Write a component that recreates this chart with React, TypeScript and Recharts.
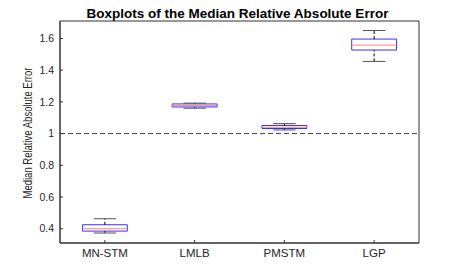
import {
  ComposedChart,
  XAxis,
  YAxis,
  ReferenceLine,
  ReferenceArea,
  Scatter,
} from 'recharts';

const categories = ['MN-STM', 'LMLB', 'PMSTM', 'LGP'];
const whiskerLow = [0.373, 1.16, 1.023, 1.455];
const q1 = [0.385, 1.168, 1.032, 1.527];
const median = [0.4, 1.178, 1.04, 1.558];
const q3 = [0.425, 1.187, 1.051, 1.596];
const whiskerHigh = [0.463, 1.192, 1.063, 1.65];

const yTicks = [0.4, 0.6, 0.8, 1, 1.2, 1.4, 1.6];
const xTicks = [1, 2, 3, 4];

const medianPoints = categories.map((name, i) => ({ x: i + 1, y: median[i], name }));

const BOX_HALF = 0.25;
const CAP_HALF = 0.125;
const FONT = '"Liberation Sans", Arial, Helvetica, sans-serif';
const AXIS = '#333333';

export default function App() {
  return (
    <div style={{ position: 'absolute', left: 0, top: 0, width: 463, height: 273, background: '#fff' }}>
      <div
        style={{
          position: 'absolute',
          left: 0,
          width: 475,
          top: 6,
          textAlign: 'center',
          fontFamily: FONT,
          fontWeight: 'bold',
          fontSize: 13.5,
          color: '#000',
        }}
      >
        Boxplots of the Median Relative Absolute Error
      </div>
      <div
        style={{
          position: 'absolute',
          left: 28,
          top: 133,
          transform: 'translate(-50%, -50%) rotate(-90deg) scaleX(0.76)',
          whiteSpace: 'nowrap',
          fontFamily: FONT,
          fontSize: 12.5,
          color: '#262626',
        }}
      >
        Median Relative Absolute Error
      </div>
      <ComposedChart
        width={463}
        height={273}
        data={medianPoints}
        margin={{ top: 21, right: 44, bottom: 0, left: 0 }}
        style={{ position: 'absolute', left: 0, top: 0 }}
      >
        <XAxis
          dataKey="x"
          type="number"
          domain={[0.5, 4.5]}
          ticks={xTicks}
          tickFormatter={(v: number) => categories[v - 1]}
          height={30}
          tickSize={-3}
          tickMargin={9}
          stroke={AXIS}
          tick={{ fill: '#262626', fontSize: 11.5, fontFamily: FONT }}
          allowDataOverflow
        />
        <XAxis
          xAxisId="top"
          dataKey="x"
          orientation="top"
          type="number"
          domain={[0.5, 4.5]}
          ticks={xTicks}
          height={0}
          tickSize={-3}
          tick={false}
          stroke={AXIS}
          allowDataOverflow
        />
        <YAxis
          type="number"
          domain={[0.31, 1.71]}
          ticks={yTicks}
          width={60}
          tickSize={-3}
          tickMargin={9}
          stroke={AXIS}
          tickFormatter={(v: number) => String(v)}
          tick={{ fill: '#262626', fontSize: 10.5, fontFamily: FONT }}
          allowDataOverflow
        />
        <YAxis
          yAxisId="right"
          orientation="right"
          type="number"
          domain={[0.31, 1.71]}
          ticks={yTicks}
          width={0}
          tickSize={-3}
          tick={false}
          stroke={AXIS}
          allowDataOverflow
        />
        <ReferenceArea
          x1={0.5}
          x2={4.5}
          y1={0.31}
          y2={1.71}
          fill="none"
          stroke={AXIS}
          ifOverflow="visible"
        />
        <ReferenceLine y={1} stroke="#444" strokeDasharray="5 3" />
        {categories.map((name, i) => (
          <ReferenceLine
            key={`wl-${name}`}
            segment={[
              { x: i + 1, y: whiskerLow[i] },
              { x: i + 1, y: q1[i] },
            ]}
            stroke="#000"
            strokeDasharray="3 2"
          />
        ))}
        {categories.map((name, i) => (
          <ReferenceLine
            key={`wh-${name}`}
            segment={[
              { x: i + 1, y: q3[i] },
              { x: i + 1, y: whiskerHigh[i] },
            ]}
            stroke="#000"
            strokeDasharray="3 2"
          />
        ))}
        {categories.map((name, i) => (
          <ReferenceLine
            key={`cl-${name}`}
            segment={[
              { x: i + 1 - CAP_HALF, y: whiskerLow[i] },
              { x: i + 1 + CAP_HALF, y: whiskerLow[i] },
            ]}
            stroke="#555"
          />
        ))}
        {categories.map((name, i) => (
          <ReferenceLine
            key={`ch-${name}`}
            segment={[
              { x: i + 1 - CAP_HALF, y: whiskerHigh[i] },
              { x: i + 1 + CAP_HALF, y: whiskerHigh[i] },
            ]}
            stroke="#555"
          />
        ))}
        {categories.map((name, i) => (
          <ReferenceArea
            key={`box-${name}`}
            x1={i + 1 - BOX_HALF}
            x2={i + 1 + BOX_HALF}
            y1={q1[i]}
            y2={q3[i]}
            fill="#fff"
            fillOpacity={1}
            stroke="#3333ff"
            strokeWidth={1}
          />
        ))}
        {categories.map((name, i) => (
          <ReferenceLine
            key={`med-${name}`}
            segment={[
              { x: i + 1 - BOX_HALF, y: median[i] },
              { x: i + 1 + BOX_HALF, y: median[i] },
            ]}
            stroke="#ff8080"
          />
        ))}
        <Scatter dataKey="y" isAnimationActive={false} shape={() => <g />} />
        <Scatter
          dataKey="y"
          xAxisId="top"
          yAxisId="right"
          isAnimationActive={false}
          shape={() => <g />}
        />
      </ComposedChart>
    </div>
  );
}
